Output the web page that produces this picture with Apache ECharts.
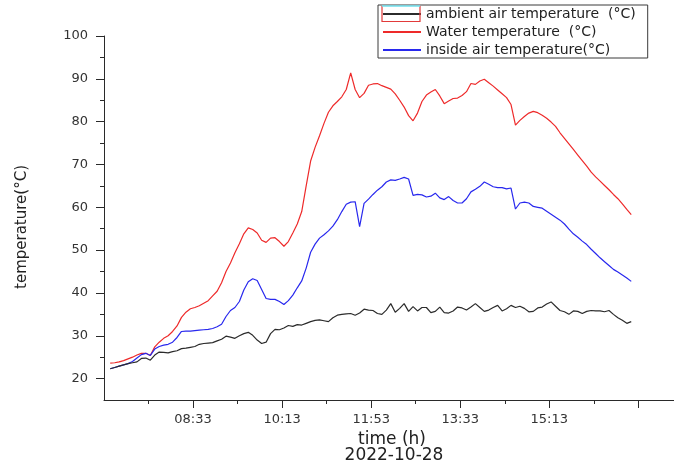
<!DOCTYPE html>
<html><head><meta charset="utf-8">
<script src="https://cdn.jsdelivr.net/npm/echarts@6/dist/echarts.min.js"></script>
<style>html,body{margin:0;padding:0;background:#fff}#c{width:674px;height:469px}</style>
</head><body><div id="c"></div>
<script>
const times = ['07:00','07:05','07:10','07:15','07:20','07:25','07:30','07:35','07:40','07:45','07:50','07:55',
'08:00','08:05','08:10','08:15','08:20','08:25','08:30','08:35','08:40','08:45','08:50','08:55',
'09:00','09:05','09:10','09:15','09:20','09:25','09:30','09:35','09:40','09:45','09:50','09:55',
'10:00','10:05','10:10','10:15','10:20','10:25','10:30','10:35','10:40','10:45','10:50','10:55',
'11:00','11:05','11:10','11:15','11:20','11:25','11:30','11:35','11:40','11:45','11:50','11:55',
'12:00','12:05','12:10','12:15','12:20','12:25','12:30','12:35','12:40','12:45','12:50','12:55',
'13:00','13:05','13:10','13:15','13:20','13:25','13:30','13:35','13:40','13:45','13:50','13:55',
'14:00','14:05','14:10','14:15','14:20','14:25','14:30','14:35','14:40','14:45','14:50','14:55',
'15:00','15:05','15:10','15:15','15:20','15:25','15:30','15:35','15:40','15:45','15:50','15:55',
'16:00','16:05','16:10','16:15','16:20','16:25','16:30','16:35','16:40','16:45'];

const ambient = [22.3,22.6,22.9,23.2,23.5,23.7,23.9,24.7,24.8,24.3,25.5,26.2,
26.1,26.0,26.3,26.5,27.0,27.1,27.3,27.5,28.0,28.2,28.3,28.4,
28.8,29.2,29.9,29.7,29.4,30.0,30.5,30.8,30.1,29.0,28.2,28.5,
30.5,31.5,31.4,31.8,32.4,32.2,32.6,32.5,32.9,33.3,33.6,33.7,
33.5,33.3,34.2,34.8,35.0,35.1,35.2,34.8,35.3,36.2,36.0,35.9,
35.2,35.0,36.0,37.5,35.5,36.4,37.5,35.7,36.8,35.8,36.6,36.6,
35.4,35.7,36.7,35.4,35.3,35.8,36.7,36.5,36.0,36.7,37.5,36.6,
35.7,36.0,36.6,37.1,35.8,36.3,37.1,36.6,36.9,36.4,35.6,35.7,
36.5,36.7,37.4,37.9,36.9,35.9,35.6,35.0,35.8,35.7,35.2,35.7,
35.9,35.8,35.8,35.6,35.9,35.0,34.2,33.6,32.9,33.3];

const water = [23.6,23.7,23.9,24.2,24.6,25.0,25.5,25.9,25.9,25.4,27.4,28.5,
29.4,30.0,31.0,32.3,34.3,35.5,36.3,36.6,37.0,37.6,38.2,39.3,
40.4,42.4,45.0,47.0,49.4,51.5,53.8,55.2,54.8,54.0,52.3,51.8,
52.8,52.9,52.0,50.9,52.0,54.0,56.1,59.0,65.0,70.8,74.0,76.7,
79.6,82.2,83.7,84.7,85.8,87.5,91.4,87.5,85.6,86.6,88.5,88.8,
88.9,88.4,88.0,87.6,86.5,85.0,83.4,81.4,80.2,82.0,84.7,86.2,
86.9,87.5,86.0,84.2,84.8,85.4,85.5,86.1,87.0,88.9,88.7,89.5,
89.9,89.1,88.3,87.4,86.5,85.6,84.0,79.2,80.3,81.2,82.0,82.4,
82.1,81.5,80.8,79.9,78.9,77.4,76.1,74.8,73.5,72.2,70.9,69.6,
68.2,67.1,66.1,65.1,64.1,63.0,62.0,60.8,59.5,58.3];

const inside = [22.3,22.6,22.9,23.2,23.5,24.0,24.8,25.6,25.9,25.4,26.9,27.5,
27.8,28.0,28.5,29.6,31.0,31.1,31.1,31.2,31.3,31.4,31.5,31.7,
32.1,32.7,34.5,35.9,36.6,38.0,40.7,42.6,43.3,42.9,40.8,38.7,
38.5,38.5,38.0,37.3,38.2,39.5,41.2,42.8,45.8,49.5,51.4,52.8,
53.6,54.5,55.6,57.1,59.0,60.7,61.2,61.3,55.5,60.9,61.9,63.0,
64.0,64.8,65.9,66.4,66.3,66.6,67.0,66.6,62.8,63.0,62.9,62.4,
62.6,63.3,62.2,61.8,62.5,61.6,61.0,61.0,62.0,63.6,64.2,64.9,
65.9,65.4,64.8,64.6,64.6,64.3,64.5,59.6,61.0,61.2,61.0,60.2,
60.0,59.8,59.1,58.4,57.7,57.0,56.1,54.9,53.8,53.0,52.1,51.3,
50.2,49.2,48.2,47.3,46.4,45.5,44.9,44.2,43.5,42.7];

const xAxisStart = '06:53';
const xAxisEnd = '17:33';
const xTickLabels = ['08:33','10:13','11:53','13:33','15:13'];
const xMajorTicks = ['08:33','10:13','11:53','13:33','15:13','16:53'];
const xMinorTicks = ['07:43','09:23','11:03','12:43','14:23','16:03'];
const yTickLabels = [20,30,40,50,60,70,80,90,100];
const yMinorTicks = [25,35,45,55,65,75,85,95];

const toMin = s => { const p = s.split(':'); return (+p[0]) * 60 + (+p[1]); };
const off = s => toMin(s) - toMin(xAxisStart);
const fmt = v => { const m = v + toMin(xAxisStart); const h = Math.floor(m / 60), mm = m % 60; return (h < 10 ? '0' : '') + h + ':' + (mm < 10 ? '0' : '') + mm; };

const FONT = 'DejaVu Sans';
const chart = echarts.init(document.getElementById('c'), null, {renderer: 'canvas'});
const xMax = off(xAxisEnd);
const mk = arr => times.map((t, i) => [off(t), arr[i]]);

chart.setOption({
  animation: false,
  backgroundColor: '#fff',
  grid: {left: 104, top: 36, width: 571.5, height: 364},
  xAxis: [{
    type: 'value', min: 0, max: xMax, position: 'bottom',
    splitLine: {show: false},
    axisLine: {onZero: false, lineStyle: {color: '#2a2a2a', width: 1}},
    axisTick: {customValues: xMajorTicks.map(off), length: 8, lineStyle: {color: '#2a2a2a'}},
    axisLabel: {customValues: xTickLabels.map(off), formatter: v => fmt(v), margin: 13,
      fontFamily: FONT, fontSize: 13, color: '#333'},
    name: 'time (h)', nameLocation: 'middle', nameGap: 27,
    nameTextStyle: {fontFamily: FONT, fontSize: 17, color: '#222', padding: [0, 0, 0, 6]}
  }, {
    type: 'value', min: 0, max: xMax, position: 'bottom',
    splitLine: {show: false},
    axisLine: {show: false, onZero: false},
    axisTick: {customValues: xMinorTicks.map(off), length: 4, lineStyle: {color: '#2a2a2a'}},
    axisLabel: {show: false}
  }],
  yAxis: [{
    type: 'value', min: 15, max: 100, position: 'left',
    splitLine: {show: false},
    axisLine: {show: true, onZero: false, lineStyle: {color: '#2a2a2a', width: 1}},
    axisTick: {customValues: yTickLabels, length: 8, lineStyle: {color: '#2a2a2a'}},
    axisLabel: {customValues: yTickLabels, margin: 16, fontFamily: FONT, fontSize: 13, color: '#333'}
  }, {
    type: 'value', min: 15, max: 100, position: 'left',
    splitLine: {show: false},
    axisLine: {show: false, onZero: false},
    axisTick: {customValues: yMinorTicks, length: 4, lineStyle: {color: '#2a2a2a'}},
    axisLabel: {show: false}
  }],
  legend: {
    orient: 'vertical', left: 378, top: 5, padding: [2, 12, 1, 4],
    itemWidth: 38, itemHeight: 14, itemGap: 4,
    borderColor: '#3a3a3a', borderWidth: 1, selectedMode: false,
    itemStyle: {color: 'transparent', borderColor: 'transparent', borderWidth: 0},
    textStyle: {fontFamily: FONT, fontSize: 14, color: '#222'},
    data: ['ambient air temperature  (°C)', 'Water temperature  (°C)', 'inside air temperature(°C)']
  },
  graphic: {elements: [
    {type: 'polyline', z: 50, shape: {points: [[382, 6], [382, 21.5], [420, 21.5], [420, 6]]},
      style: {fill: null, stroke: '#e23a3a', lineWidth: 1.2}},
    {type: 'polyline', z: 51, shape: {points: [[382, 6], [420, 6]]},
      style: {fill: null, stroke: '#6fe0ee', lineWidth: 1.6}},
    {type: 'text', z: 50, x: 22, y: 227, rotation: Math.PI / 2,
      style: {text: 'temperature(°C)', font: '15px "DejaVu Sans"', fill: '#222', align: 'center', verticalAlign: 'middle'}},
    {type: 'text', z: 50, x: 394, y: 456,
      style: {text: '2022-10-28', font: '17px "DejaVu Sans"', fill: '#222', align: 'center', verticalAlign: 'middle'}}
  ]},
  series: [
    {name: 'ambient air temperature  (°C)', type: 'line', symbol: 'none', showSymbol: false,
      xAxisIndex: 0, yAxisIndex: 0, data: mk(ambient), lineStyle: {color: '#2b2b2b', width: 1.2}, itemStyle: {color: '#2b2b2b'}, z: 3},
    {name: 'Water temperature  (°C)', type: 'line', symbol: 'none', showSymbol: false,
      xAxisIndex: 0, yAxisIndex: 0, data: mk(water), lineStyle: {color: '#ee2a2a', width: 1.2}, itemStyle: {color: '#ee2a2a'}, z: 2},
    {name: 'inside air temperature(°C)', type: 'line', symbol: 'none', showSymbol: false,
      xAxisIndex: 0, yAxisIndex: 0, data: mk(inside), lineStyle: {color: '#2828ee', width: 1.2}, itemStyle: {color: '#2828ee'}, z: 2}
  ]
});
</script></body></html>
